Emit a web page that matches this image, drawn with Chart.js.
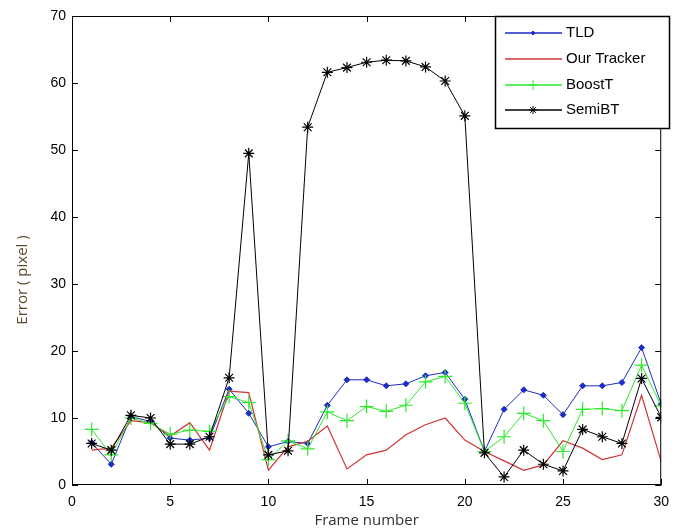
<!DOCTYPE html>
<html>
<head>
<meta charset="utf-8">
<script src="https://cdn.jsdelivr.net/npm/chart.js@4.4.1/dist/chart.umd.min.js"></script>
<style>
  html, body { margin: 0; padding: 0; background: #fff; }
  #wrap { width: 678px; height: 530px; }
</style>
</head>
<body>
<div id="wrap"><canvas id="grafico" width="678" height="530"></canvas></div>
<script>
// Dados
const frames = [1, 2, 3, 4, 5, 6, 7, 8, 9, 10, 11, 12, 13, 14, 15, 16, 17, 18, 19, 20, 21, 22, 23, 24, 25, 26, 27, 28, 29, 30];
const tld = [6.3, 3.1, 10.2, 9.5, 7.0, 6.7, 7.0, 14.3, 10.7, 5.7, 6.5, 6.2, 11.9, 15.7, 15.7, 14.8, 15.1, 16.3, 16.8, 12.8, 5.0, 11.3, 14.2, 13.4, 10.5, 14.8, 14.8, 15.3, 20.5, 12.1];
const ourTracker = [5.2, 5.5, 9.6, 9.3, 7.3, 9.3, 5.2, 14.0, 13.8, 2.2, 5.7, 6.5, 8.8, 2.4, 4.5, 5.2, 7.5, 9.0, 10.0, 6.7, 5.0, 3.6, 2.2, 3.0, 6.6, 5.5, 3.8, 4.5, 13.4, 3.5];
const boostT = [8.3, 4.5, 10.0, 9.2, 7.6, 8.2, 8.0, 13.2, 12.3, 3.8, 6.6, 5.4, 10.9, 9.6, 11.7, 11.0, 11.9, 15.4, 16.2, 12.2, 5.0, 7.2, 10.7, 9.6, 5.0, 11.3, 11.4, 11.1, 17.9, 11.8];
const semiBT = [6.2, 5.2, 10.4, 10.0, 6.1, 6.1, 7.2, 16.0, 49.5, 4.5, 5.1, 53.4, 61.6, 62.3, 63.1, 63.4, 63.3, 62.4, 60.3, 55.1, 4.8, 1.2, 5.2, 3.1, 2.1, 8.3, 7.2, 6.2, 15.9, 10.1];
const xTicks = [0, 5, 10, 15, 20, 25, 30];
const yTicks = [0, 10, 20, 30, 40, 50, 60, 70];

const pontos = valores => valores.map((v, i) => ({ x: frames[i], y: v }));

const fonteEixo = '"Liberation Sans", Arial, sans-serif';
const fonteTitulo = '"Open Sans", "DejaVu Sans", sans-serif';

// Moldura, ticks internos, título do eixo y e legenda no estilo MATLAB
const estiloMatlab = {
    id: 'estiloMatlab',
    afterDraw(chart) {
        const { ctx, chartArea: a, scales } = chart;
        ctx.save();
        ctx.strokeStyle = '#000';
        ctx.lineWidth = 1;
        ctx.strokeRect(a.left + 0.5, a.top + 0.5, a.right - a.left - 1, a.bottom - a.top - 1);
        ctx.beginPath();
        xTicks.forEach(t => {
            const px = Math.round(scales.x.getPixelForValue(t)) + 0.5;
            ctx.moveTo(px, a.bottom); ctx.lineTo(px, a.bottom - 6);
            ctx.moveTo(px, a.top); ctx.lineTo(px, a.top + 6);
        });
        yTicks.forEach(t => {
            const py = Math.round(scales.y.getPixelForValue(t)) + 0.5;
            ctx.moveTo(a.left, py); ctx.lineTo(a.left + 6, py);
            ctx.moveTo(a.right, py); ctx.lineTo(a.right - 6, py);
        });
        ctx.stroke();

        // título do eixo y
        ctx.save();
        ctx.translate(23, 280);
        ctx.rotate(-Math.PI / 2);
        ctx.fillStyle = '#5c4a2e';
        ctx.font = '15px ' + fonteTitulo;
        ctx.textAlign = 'center';
        ctx.textBaseline = 'middle';
        ctx.fillText('Error ( pixel )', 0, 0);
        ctx.restore();

        // legenda
        const bx = 495, by = 16, bw = 174, bh = 112;
        ctx.fillStyle = '#fff';
        ctx.fillRect(bx, by, bw, bh);
        ctx.strokeStyle = '#000';
        ctx.lineWidth = 1.5;
        ctx.strokeRect(bx + 0.5, by + 0.5, bw, bh);
        ctx.font = '15px ' + fonteEixo;
        ctx.textBaseline = 'middle';
        ctx.textAlign = 'left';
        const linhasY = [33, 59, 85, 110];
        const raioLegenda = [2, 0, 5, 4];
        chart.data.datasets.forEach((ds, i) => {
            const y = linhasY[i];
            ctx.strokeStyle = ds.borderColor;
            ctx.lineWidth = 1.3;
            ctx.beginPath();
            ctx.moveTo(505, y); ctx.lineTo(562, y);
            ctx.stroke();
            if (raioLegenda[i] > 0) {
                ctx.fillStyle = ds.pointBackgroundColor;
                ctx.strokeStyle = ds.pointBorderColor;
                ctx.lineWidth = 1;
                Chart.helpers.drawPoint(ctx, {
                    pointStyle: ds.pointStyle,
                    radius: raioLegenda[i],
                    borderWidth: 1
                }, 533, y);
            }
            ctx.fillStyle = '#000';
            ctx.fillText(ds.label, 566, y);
        });
        ctx.restore();
    }
};

new Chart(document.getElementById('grafico'), {
    type: 'line',
    data: {
        datasets: [{
            label: 'TLD',
            data: pontos(tld),
            borderColor: '#1c2cc4',
            borderWidth: 1,
            pointStyle: 'rectRot',
            pointRadius: 3,
            pointBorderWidth: 1,
            pointBackgroundColor: '#1c2cc4',
            pointBorderColor: '#1c2cc4',
            order: 3
        }, {
            label: 'Our Tracker',
            data: pontos(ourTracker),
            borderColor: '#d03434',
            borderWidth: 1.2,
            pointRadius: 0,
            order: 2
        }, {
            label: 'BoostT',
            data: pontos(boostT),
            borderColor: '#2ee82e',
            borderWidth: 1,
            pointStyle: 'cross',
            pointRadius: 7,
            pointBorderWidth: 1.2,
            pointBackgroundColor: '#2ee82e',
            pointBorderColor: '#2ee82e',
            order: 1
        }, {
            label: 'SemiBT',
            data: pontos(semiBT),
            borderColor: '#000',
            borderWidth: 1,
            pointStyle: 'star',
            pointRadius: 5.5,
            pointBorderWidth: 1.2,
            pointBackgroundColor: '#000',
            pointBorderColor: '#000',
            order: 0
        }]
    },
    options: {
        responsive: false,
        animation: false,
        layout: { padding: { top: 16, right: 8, left: 0, bottom: 0 } },
        elements: { line: { tension: 0, fill: false } },
        plugins: {
            legend: { display: false },
            tooltip: { enabled: false }
        },
        scales: {
            x: {
                type: 'linear',
                min: 0,
                max: 30,
                afterFit: s => { s.height = 45; },
                afterBuildTicks: s => { s.ticks = xTicks.map(v => ({ value: v })); },
                grid: { display: false, drawTicks: false },
                border: { display: false },
                ticks: {
                    color: '#000',
                    padding: 9,
                    font: { family: fonteEixo, size: 14 }
                },
                title: {
                    display: true,
                    text: 'Frame number',
                    color: '#333',
                    padding: { top: 0, bottom: 0 },
                    font: { family: fonteTitulo, size: 15 }
                }
            },
            y: {
                min: 0,
                max: 70,
                afterFit: s => { s.width = 72; },
                afterBuildTicks: s => { s.ticks = yTicks.map(v => ({ value: v })); },
                grid: { display: false, drawTicks: false },
                border: { display: false },
                ticks: {
                    color: '#000',
                    padding: 6,
                    font: { family: fonteEixo, size: 14 }
                }
            }
        }
    },
    plugins: [estiloMatlab]
});
</script>
</body>
</html>
